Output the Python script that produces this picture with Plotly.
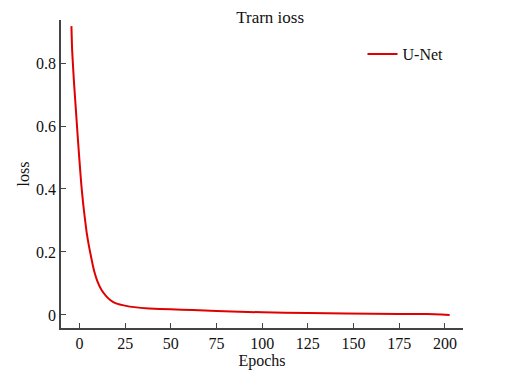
import plotly.graph_objects as go

epochs = [-4.4, -4.0, -3.0, -2.0, -1.0, 0.0, 1.0, 2.0, 3.0, 4.0, 5.0, 6.0, 7.3, 8.5,
          10, 12, 14.6, 17, 20, 25.5, 30, 38, 50, 62, 75, 100, 125, 146, 175, 190, 202.6]
loss = [0.917, 0.84, 0.74, 0.655, 0.57, 0.49, 0.415, 0.355, 0.305, 0.26, 0.225, 0.195,
        0.158, 0.13, 0.104, 0.08, 0.06, 0.047, 0.037, 0.029, 0.025, 0.021, 0.018,
        0.016, 0.013, 0.0085, 0.0065, 0.005, 0.0035, 0.003, 0.0]
x_ticks = [0, 25, 50, 75, 100, 125, 150, 175, 200]
y_ticks = [0, 0.2, 0.4, 0.6, 0.8]
y_tick_labels = ["0", "0.2", "0.4", "0.6", "0.8"]

font = "Liberation Serif, Times New Roman, serif"
axis_color = "#444444"

fig = go.Figure()
fig.add_trace(go.Scatter(
    x=epochs, y=loss, mode="lines", name="U-Net",
    line=dict(color="#e00000", width=2, shape="spline", smoothing=0.5),
))

fig.update_layout(
    width=512, height=368,
    margin=dict(l=53, r=57, t=12, b=48, autoexpand=False),
    paper_bgcolor="white", plot_bgcolor="white",
    font=dict(family=font, size=16, color="#111111"),
    title=dict(text="Trarn ioss", x=0.512, xanchor="center", y=0.975, yanchor="middle",
               automargin=False,
               font=dict(family=font, size=17, color="#111111")),
    showlegend=True,
    legend=dict(x=0.75, y=0.889, xanchor="left", yanchor="middle",
                bgcolor="rgba(0,0,0,0)", font=dict(family=font, size=16)),
)
fig.update_xaxes(
    range=[-10.1, 209.9], tickvals=x_ticks, ticks="inside", ticklen=5,
    tickcolor=axis_color, showline=True, linecolor=axis_color, linewidth=1.5,
    showgrid=False, zeroline=False, mirror=False, automargin=False,
    tickfont=dict(family=font, size=16),
    title=dict(text="Epochs", standoff=0, font=dict(family=font, size=16)),
)
fig.update_yaxes(
    range=[-0.0413, 0.9365], tickvals=y_ticks, ticktext=y_tick_labels,
    ticks="inside", ticklen=5, tickcolor=axis_color, showline=True,
    linecolor=axis_color, linewidth=1.5, showgrid=False, zeroline=False,
    automargin=False, tickfont=dict(family=font, size=16),
    title=dict(text="loss", standoff=2, font=dict(family=font, size=16)),
)

fig.write_html("out.html")
